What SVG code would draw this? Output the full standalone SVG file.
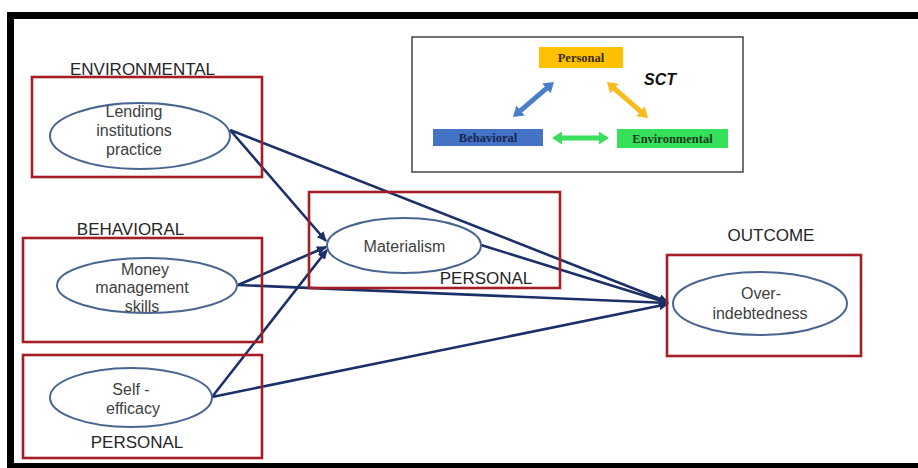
<svg xmlns="http://www.w3.org/2000/svg" width="918" height="468" viewBox="0 0 918 468">
<style>
.box{fill:none;stroke:#A61E25;stroke-width:2.6}
.ell{fill:#fff;stroke:#48668f;stroke-width:2}
.txt{font-family:"Liberation Sans",Arial,sans-serif;font-size:16px;fill:#404040;text-anchor:middle}
.lbl{font-family:"Liberation Sans",Arial,sans-serif;font-size:17px;fill:#262626;text-anchor:middle}
.sct{font-family:"Liberation Serif","Times New Roman",serif;font-size:12.5px;font-weight:bold;text-anchor:middle}
.con{fill:none;stroke:#1b2f68;stroke-width:2.6;marker-end:url(#ah)}
</style>
<defs>
<marker id="ah" markerUnits="userSpaceOnUse" markerWidth="10" markerHeight="9" refX="9" refY="4.5" orient="auto" viewBox="0 0 10 9">
<path d="M0,0 L10,4.5 L0,9 z" fill="#1b2f68"/>
</marker>
<marker id="mb" markerUnits="userSpaceOnUse" markerWidth="10" markerHeight="13" refX="2" refY="6.5" orient="auto-start-reverse" viewBox="0 0 10 13">
<path d="M0,0 L10,6.5 L0,13 z" fill="#4a7ec9"/>
</marker>
<marker id="mg" markerUnits="userSpaceOnUse" markerWidth="10" markerHeight="13" refX="2" refY="6.5" orient="auto-start-reverse" viewBox="0 0 10 13">
<path d="M0,0 L10,6.5 L0,13 z" fill="#f6bb1c"/>
</marker>
<marker id="mn" markerUnits="userSpaceOnUse" markerWidth="10" markerHeight="13" refX="2" refY="6.5" orient="auto-start-reverse" viewBox="0 0 10 13">
<path d="M0,0 L10,6.5 L0,13 z" fill="#38de5c"/>
</marker>
</defs>
<rect x="0" y="0" width="918" height="468" fill="#fff"/>
<!-- frame -->
<g id="frame" fill="#000">
<rect x="8" y="12" width="910" height="7"/>
<rect x="7" y="12" width="7" height="456"/>
<rect x="7" y="463" width="911" height="5"/>
</g>

<!-- SCT inset -->
<g id="sct-inset">
<rect x="412" y="37" width="331" height="135" fill="#fff" stroke="#444" stroke-width="1.5"/>
<rect x="539" y="47" width="84" height="21" fill="#FFC000"/>
<text class="sct" x="581" y="62" fill="#3b2b05">Personal</text>
<rect x="433" y="129" width="110" height="17" fill="#4472C4"/>
<text class="sct" x="488" y="142" fill="#172552">Behavioral</text>
<rect x="617" y="129" width="111" height="19" fill="#35e05b"/>
<text class="sct" x="672.5" y="143" fill="#163a1c">Environmental</text>
<text x="660" y="85" font-family="'Liberation Sans',Arial,sans-serif" font-size="16" font-weight="bold" font-style="italic" fill="#111" text-anchor="middle">SCT</text>
<line x1="519.1" y1="111.8" x2="547.9" y2="87.2" stroke="#4a7ec9" stroke-width="5" marker-start="url(#mb)" marker-end="url(#mb)"/>
<line x1="613" y1="87.3" x2="642" y2="112.7" stroke="#f6bb1c" stroke-width="5" marker-start="url(#mg)" marker-end="url(#mg)"/>
<line x1="560" y1="138" x2="601" y2="138" stroke="#38de5c" stroke-width="5" marker-start="url(#mn)" marker-end="url(#mn)"/>
</g>

<!-- connectors -->
<g id="connectors">
<line class="con" x1="230" y1="130" x2="326" y2="241"/>
<line class="con" x1="230" y1="130" x2="668" y2="302"/>
<line class="con" x1="238" y1="285" x2="326" y2="247"/>
<line class="con" x1="238" y1="285" x2="668" y2="303"/>
<line class="con" x1="212" y1="397" x2="327" y2="250"/>
<line class="con" x1="212" y1="397" x2="668" y2="304"/>
<line class="con" x1="481" y1="245" x2="668" y2="303"/>
</g>

<g id="node-lending">
<text class="lbl" x="142.5" y="75">ENVIRONMENTAL</text>
<rect class="box" x="32" y="77" width="230" height="100"/>
<ellipse class="ell" cx="140" cy="136" rx="90" ry="33"/>
<text class="txt" x="134" y="117">Lending</text>
<text class="txt" x="134" y="136">institutions</text>
<text class="txt" x="134" y="155">practice</text>
</g>

<g id="node-money">
<text class="lbl" x="130.5" y="235">BEHAVIORAL</text>
<rect class="box" x="23" y="238" width="239" height="104"/>
<ellipse class="ell" cx="147" cy="285.5" rx="90" ry="27.5"/>
<text class="txt" x="145" y="275">Money</text>
<text class="txt" x="142" y="293">management</text>
<text class="txt" x="142" y="312">skills</text>
</g>

<g id="node-selfefficacy">
<rect class="box" x="23" y="355" width="239" height="103"/>
<ellipse class="ell" cx="131" cy="397.5" rx="81" ry="29.5"/>
<text class="txt" x="131" y="395">Self -</text>
<text class="txt" x="133" y="414">efficacy</text>
<text class="lbl" x="137" y="448">PERSONAL</text>
</g>

<g id="node-materialism">
<rect class="box" x="309" y="192" width="251" height="96"/>
<ellipse class="ell" cx="404" cy="245.5" rx="77" ry="27.5"/>
<text class="txt" x="404.5" y="252">Materialism</text>
<text class="lbl" x="486" y="284">PERSONAL</text>
</g>

<g id="node-overindebtedness">
<text class="lbl" x="771" y="241">OUTCOME</text>
<rect class="box" x="667" y="255" width="194" height="101"/>
<ellipse class="ell" cx="760" cy="303.5" rx="87" ry="31.5"/>
<text class="txt" x="761" y="299">Over-</text>
<text class="txt" x="760" y="319">indebtedness</text>
</g>
</svg>
